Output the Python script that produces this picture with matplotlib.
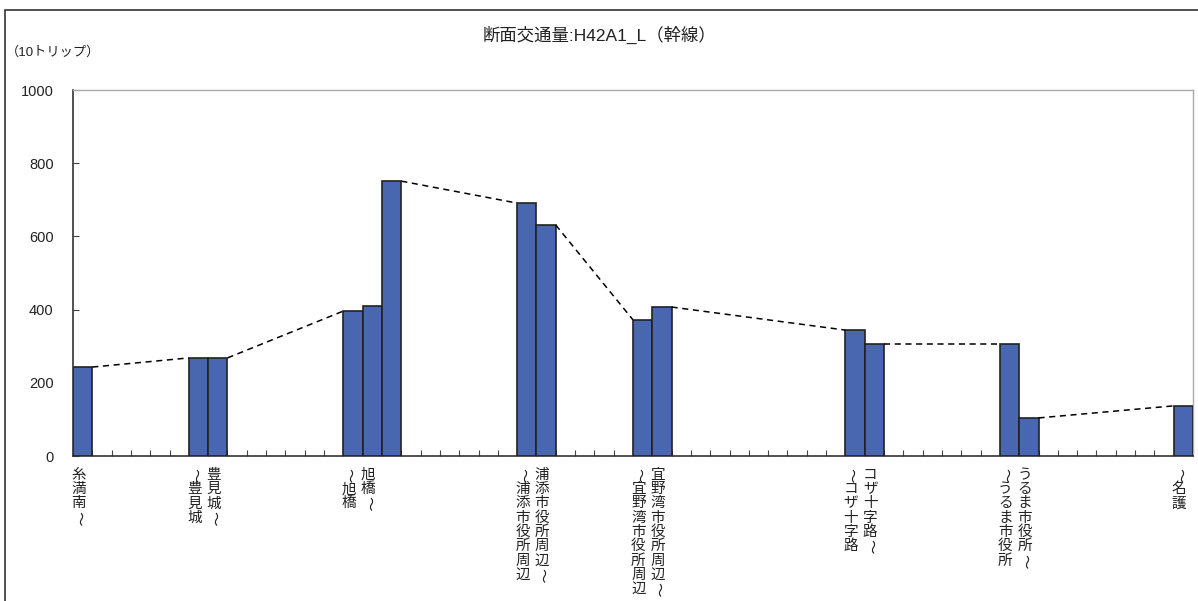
import numpy as np
import matplotlib
matplotlib.use('Agg')
import matplotlib.pyplot as plt
from matplotlib.patches import Rectangle

plt.rcParams['font.family'] = ['Liberation Sans', 'Noto Sans CJK JP', 'DejaVu Sans']

# 区間(カテゴリ)数と交通量 (10トリップ)
n_slots = 58
bar_slots = [0, 6, 7, 14, 15, 16, 23, 24, 29, 30, 40, 41, 48, 49, 57]
bar_values = [243, 268, 268, 396, 410, 751, 691, 631, 372, 407, 344, 306, 306, 104, 137]
# 点線でつなぐグループ (バー番号の範囲)
groups = [(0, 0), (1, 2), (3, 5), (6, 7), (8, 9), (10, 11), (12, 13), (14, 14)]

label_slots = [0, 6, 7, 14, 15, 23, 24, 29, 30, 40, 41, 48, 49, 57]
labels = ['糸満南～', '～豊見城', '豊見城～', '～旭橋', '旭橋～',
          '～浦添市役所周辺', '浦添市役所周辺～', '～宜野湾市役所周辺', '宜野湾市役所周辺～',
          '～コザ十字路', 'コザ十字路～', '～うるま市役所', 'うるま市役所～', '～名護']

title = '断面交通量:H42A1_L（幹線）'
unit = '（10トリップ）'
yticks = [0, 200, 400, 600, 800, 1000]

fig = plt.figure(figsize=(11.98, 6.01), dpi=100)
ax = fig.add_axes([73 / 1198, 1 - 456 / 601, 1120 / 1198, 366 / 601])

ax.bar(bar_slots, bar_values, width=1.0, color='#4966B0', edgecolor='#222222', linewidth=1.2, zorder=3)

# グループ間の点線
for (a0, a1), (b0, b1) in zip(groups[:-1], groups[1:]):
    x0 = bar_slots[a1] + 0.5
    y0 = bar_values[a1]
    x1 = bar_slots[b0] - 0.5
    y1 = bar_values[b0]
    ax.plot([x0, x1], [y0, y1], ls=(0, (4, 3)), color='black', lw=1.1, zorder=4)

ax.set_xlim(-0.5, n_slots - 0.5)
ax.set_ylim(0, 1000)
ax.set_xticks(np.arange(n_slots) - 0.5)
ax.set_xticklabels([])
ax.set_yticks(yticks)
ax.set_yticklabels([str(v) for v in yticks], fontsize=10.5, color='#222222')
ax.tick_params(axis='x', direction='in', length=4, width=0.8, color='#444444')
ax.tick_params(axis='y', direction='in', length=4, width=0.8, color='#444444', pad=14)

for s in ['left', 'bottom']:
    ax.spines[s].set_color('#333333')
    ax.spines[s].set_linewidth(1.2)
for s in ['top', 'right']:
    ax.spines[s].set_color('#aaaaaa')
    ax.spines[s].set_linewidth(1.0)

# 縦書きラベル
for slot, lab in zip(label_slots, labels):
    for i, ch in enumerate(lab):
        rot = -90 if ch == '～' else 0
        ax.annotate(ch, xy=(slot, 0), xycoords=('data', 'axes fraction'),
                    xytext=(-3, -8.5 - i * 10.3), textcoords='offset points',
                    ha='center', va='top', fontsize=10.5, color='#222222',
                    family=['Noto Sans CJK JP', 'DejaVu Sans'],
                    rotation=rot, annotation_clip=False)

fig.text(0.5, 1 - 35 / 601, title, ha='center', va='center', fontsize=12.5, color='#222222')
fig.text(6 / 1198, 1 - 52 / 601, unit, ha='left', va='center', fontsize=9.5, color='#222222')

fig.patches.append(Rectangle((5 / 1198, -0.1), 1.2, 1 - 10 / 601 + 0.1, transform=fig.transFigure,
                             fill=False, edgecolor='#333333', linewidth=1.2, clip_on=False))

fig.savefig('out.png', dpi=100)
